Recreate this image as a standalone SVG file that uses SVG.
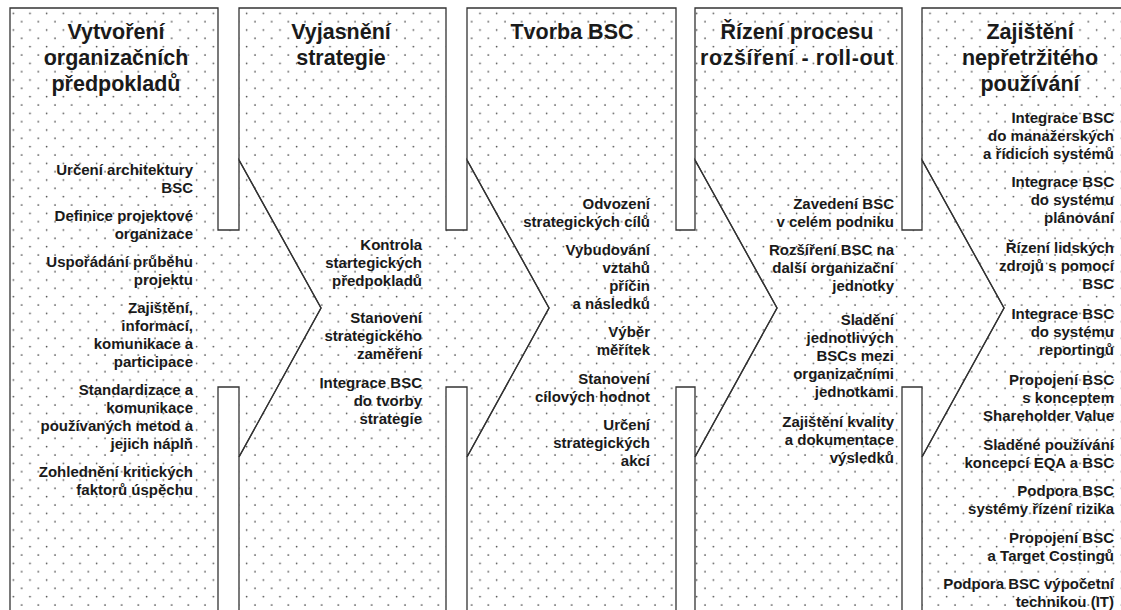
<svg xmlns="http://www.w3.org/2000/svg" width="1121" height="610" viewBox="0 0 1121 610">
<defs>
<pattern id="dots" patternUnits="userSpaceOnUse" x="0" y="0" width="16.667" height="16.667">
<circle cx="5" cy="5" r="0.85" fill="#444"/>
<circle cx="13.33" cy="13.33" r="0.85" fill="#444"/>
</pattern>
</defs>
<style>
.col{fill:url(#dots);stroke:#333;stroke-width:1.3;stroke-linejoin:miter}
.t{font-family:"Liberation Sans",Arial,sans-serif;font-weight:bold;font-size:21.5px;fill:#1a1a1a;text-anchor:middle}
.b{font-family:"Liberation Sans",Arial,sans-serif;font-weight:bold;font-size:15px;fill:#1a1a1a;text-anchor:end}
</style>
<rect width="1121" height="610" fill="#fff"/>
<g id="phase1">
<path class="col" d="M10,8 H218 V230 H239 V160 L321,308 L239,457 V387 H218 V613 H10 Z"/>
<text class="t" x="116" y="39">Vytvoření</text>
<text class="t" x="116" y="65">organizačních</text>
<text class="t" x="116" y="91">předpokladů</text>
<text class="b" x="193" y="175">Určení architektury</text>
<text class="b" x="193" y="193">BSC</text>
<text class="b" x="193" y="221">Definice projektové</text>
<text class="b" x="193" y="239">organizace</text>
<text class="b" x="193" y="267">Uspořádání průběhu</text>
<text class="b" x="193" y="285">projektu</text>
<text class="b" x="193" y="313">Zajištění,</text>
<text class="b" x="193" y="331">informací,</text>
<text class="b" x="193" y="349">komunikace a</text>
<text class="b" x="193" y="367">participace</text>
<text class="b" x="193" y="395">Standardizace a</text>
<text class="b" x="193" y="413">komunikace</text>
<text class="b" x="193" y="431">používaných metod a</text>
<text class="b" x="193" y="449">jejich náplň</text>
<text class="b" x="193" y="477">Zohlednění kritických</text>
<text class="b" x="193" y="495">faktorů úspěchu</text>
</g>
<g id="phase2">
<path class="col" d="M239,8 H446 V230 H467 V160 L549,308 L467,457 V387 H446 V613 H239 V457 L321,308 L239,160 Z"/>
<text class="t" x="341" y="39">Vyjasnění</text>
<text class="t" x="341" y="65">strategie</text>
<text class="b" x="422" y="250">Kontrola</text>
<text class="b" x="422" y="268">startegických</text>
<text class="b" x="422" y="286">předpokladů</text>
<text class="b" x="422" y="323">Stanovení</text>
<text class="b" x="422" y="341">strategického</text>
<text class="b" x="422" y="359">zaměření</text>
<text class="b" x="422" y="388">Integrace BSC</text>
<text class="b" x="422" y="406">do tvorby</text>
<text class="b" x="422" y="424">strategie</text>
</g>
<g id="phase3">
<path class="col" d="M467,8 H676 V230 H695 V160 L777,308 L695,457 V387 H676 V613 H467 V457 L549,308 L467,160 Z"/>
<text class="t" x="572" y="39">Tvorba BSC</text>
<text class="b" x="650" y="209">Odvození</text>
<text class="b" x="650" y="227">strategických cílů</text>
<text class="b" x="650" y="255">Vybudování</text>
<text class="b" x="650" y="273">vztahů</text>
<text class="b" x="650" y="291">příčin</text>
<text class="b" x="650" y="309">a následků</text>
<text class="b" x="650" y="337">Výběr</text>
<text class="b" x="650" y="355">měřítek</text>
<text class="b" x="650" y="384">Stanovení</text>
<text class="b" x="650" y="402">cílových hodnot</text>
<text class="b" x="650" y="430">Určení</text>
<text class="b" x="650" y="448">strategických</text>
<text class="b" x="650" y="466">akcí</text>
</g>
<g id="phase4">
<path class="col" d="M695,8 H902 V230 H922 V160 L1004,308 L922,457 V387 H902 V613 H695 V457 L777,308 L695,160 Z"/>
<text class="t" x="797" y="39">Řízení procesu</text>
<text class="t" x="797" y="65" textLength="194" lengthAdjust="spacing">rozšíření - roll-out</text>
<text class="b" x="894" y="209">Zavedení BSC</text>
<text class="b" x="894" y="227">v celém podniku</text>
<text class="b" x="894" y="255">Rozšíření BSC na</text>
<text class="b" x="894" y="273">další organizační</text>
<text class="b" x="894" y="291">jednotky</text>
<text class="b" x="894" y="325">Sladění</text>
<text class="b" x="894" y="343">jednotlivých</text>
<text class="b" x="894" y="361">BSCs mezi</text>
<text class="b" x="894" y="379">organizačními</text>
<text class="b" x="894" y="397">jednotkami</text>
<text class="b" x="894" y="427">Zajištění kvality</text>
<text class="b" x="894" y="445">a dokumentace</text>
<text class="b" x="894" y="463">výsledků</text>
</g>
<g id="phase5">
<path class="col" d="M922,8 H1125 V613 H922 V457 L1004,308 L922,160 Z"/>
<text class="t" x="1030" y="39">Zajištění</text>
<text class="t" x="1030" y="65">nepřetržitého</text>
<text class="t" x="1030" y="91">používání</text>
<text class="b" x="1114" y="123">Integrace BSC</text>
<text class="b" x="1114" y="141">do manažerských</text>
<text class="b" x="1114" y="159">a řídicích systémů</text>
<text class="b" x="1114" y="187">Integrace BSC</text>
<text class="b" x="1114" y="205">do systému</text>
<text class="b" x="1114" y="223">plánování</text>
<text class="b" x="1114" y="253">Řízení lidských</text>
<text class="b" x="1114" y="271">zdrojů s pomocí</text>
<text class="b" x="1114" y="289">BSC</text>
<text class="b" x="1114" y="319">Integrace BSC</text>
<text class="b" x="1114" y="337">do systému</text>
<text class="b" x="1114" y="355">reportingů</text>
<text class="b" x="1114" y="385">Propojení BSC</text>
<text class="b" x="1114" y="403">s konceptem</text>
<text class="b" x="1114" y="421">Shareholder Value</text>
<text class="b" x="1114" y="450">Sladěné používání</text>
<text class="b" x="1114" y="468">koncepcí EQA a BSC</text>
<text class="b" x="1114" y="496">Podpora BSC</text>
<text class="b" x="1114" y="514">systémy řízení rizika</text>
<text class="b" x="1114" y="543">Propojení BSC</text>
<text class="b" x="1114" y="561">a Target Costingů</text>
<text class="b" x="1114" y="589">Podpora BSC výpočetní</text>
<text class="b" x="1114" y="607">technikou (IT)</text>
</g>
<g id="connectors"/>
</svg>
